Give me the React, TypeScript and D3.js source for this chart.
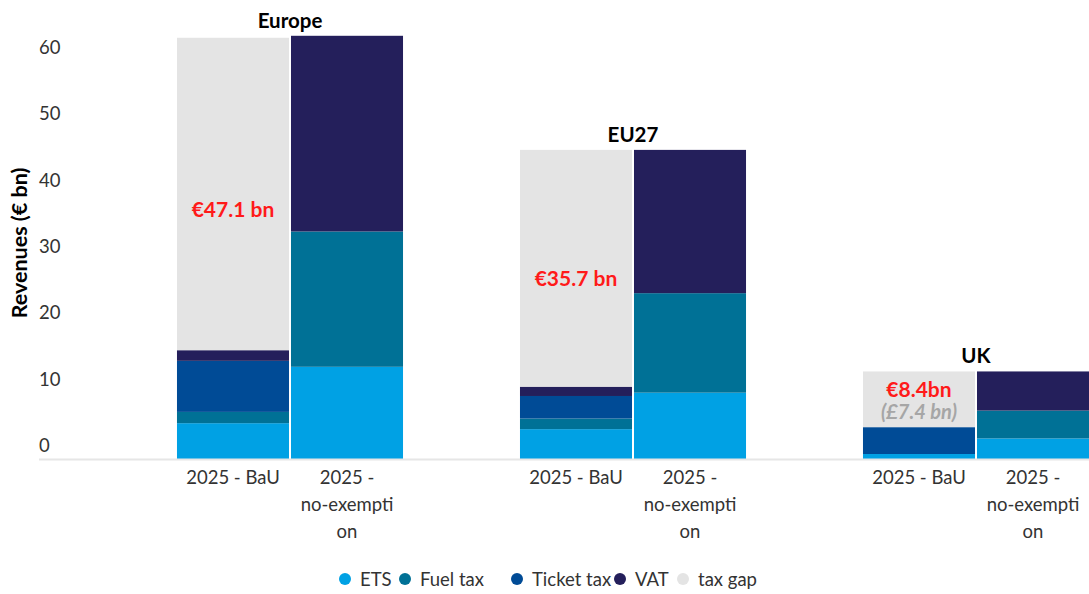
import React from "react";
import * as d3 from "d3";

const groups = ["Europe", "EU27", "UK"];
const scenarios = ["2025 - BaU", "2025 - no-exemption"];
const seriesNames = ["ETS", "Fuel tax", "Ticket tax", "VAT", "tax gap"];
const seriesColors = ["#00a1e4", "#007196", "#004b96", "#241f5b", "#e4e4e4"];

// values per group for [BaU, no-exemption]
const ets = [[5.4, 13.9], [4.5, 10.0], [0.75, 3.1]];
const fuelTax = [[1.7, 20.4], [1.6, 15.0], [0, 4.2]];
const ticketTax = [[7.7, 0], [3.4, 0], [4.05, 0]];
const vat = [[1.6, 29.5], [1.4, 21.6], [0, 5.9]];
const taxGap = [[47.1, 0], [35.7, 0], [8.4, 0]];

const yTicks = [0, 10, 20, 30, 40, 50, 60];
const gapLabels = ["€47.1 bn", "€35.7 bn", "€8.4bn"];
const gapSubLabels = ["", "", "(£7.4 bn)"];
const gapLabelAnchors = [37.5, 27.1, 8.9];

const W = 1089;
const H = 594;
const FONT = "Lato, 'Noto Sans', sans-serif";

export default function App() {
  const y = d3.scaleLinear().domain([0, 60]).range([459, 61]);
  const x0 = d3
    .scaleBand<string>()
    .domain(groups)
    .range([118.5, 1147.5])
    .paddingInner(0.341)
    .paddingOuter(0.1705);
  const x1 = d3
    .scaleBand<string>()
    .domain(scenarios)
    .range([0, x0.bandwidth()])
    .paddingInner(0.0175);

  const allSeries = [ets, fuelTax, ticketTax, vat, taxGap];

  const rows = groups.flatMap((g, gi) =>
    scenarios.map((s, si) => {
      const row: any = { group: g, scenario: s, gi, si };
      seriesNames.forEach((n, k) => (row[n] = allSeries[k][gi][si]));
      return row;
    })
  );
  const stack = d3.stack<any>().keys(seriesNames);
  const stacked = stack(rows);

  const groupMax = groups.map((g, gi) => d3.max(rows.filter((r) => r.gi === gi).map((r) => d3.sum(seriesNames, (n) => r[n])))!);

  const xLabelLines = (s: string) => (s === "2025 - BaU" ? ["2025 - BaU"] : ["2025 -", "no-exempti", "on"]);

  const legendX = [339, 399, 511, 614, 677];

  return (
    <svg width={W} height={H} style={{ position: "absolute", left: 0, top: 0, fontFamily: FONT }}>
      <rect x={0} y={0} width={W} height={H} fill="#fff" />
      {/* y tick labels */}
      {yTicks.map((t) => (
        <text key={t} x={39} y={y(t) - 7} fontSize={18.5} fill="#333" textAnchor="start">
          {t}
        </text>
      ))}
      <text
        transform={`translate(27,243) rotate(-90)`}
        fontSize={21.5}
        fontWeight={700}
        fill="#000"
        textAnchor="middle"
      >
        Revenues (€ bn)
      </text>
      {/* bars */}
      {stacked.map((layer, k) => (
        <g key={seriesNames[k]} fill={seriesColors[k]}>
          {layer.map((d, i) => {
            const r = rows[i];
            const h = y(d[0]) - y(d[1]);
            if (h <= 0) return null;
            return (
              <rect
                key={i}
                x={x0(r.group)! + x1(r.scenario)!}
                y={y(d[1])}
                width={x1.bandwidth()}
                height={h}
              />
            );
          })}
        </g>
      ))}
      {/* baseline */}
      <line x1={39} x2={W} y1={y(0) + 0.5} y2={y(0) + 0.5} stroke="#e6e6e6" strokeWidth={2} />
      {/* group titles */}
      {groups.map((g, gi) => (
        <text
          key={g}
          x={x0(g)! + x0.bandwidth() / 2}
          y={y(groupMax[gi]) - 8}
          fontSize={20.5}
          fontWeight={700}
          fill="#000"
          textAnchor="middle"
        >
          {g}
        </text>
      ))}
      {/* gap labels */}
      {groups.map((g, gi) => {
        const cx = x0(g)! + x1(scenarios[0])! + x1.bandwidth() / 2;
        const cy = y(gapLabelAnchors[gi]);
        const sub = gapSubLabels[gi];
        return (
          <g key={g}>
            <text
              x={cx}
              y={sub ? cy - 3 : cy + 7}
              fontSize={21}
              fontWeight={700}
              fill="#ff1a1a"
              textAnchor="middle"
            >
              {gapLabels[gi]}
            </text>
            {sub && (
              <text x={cx} y={cy + 19} fontSize={20} fontWeight={700} fontStyle="italic" fill="#a6a6a6" textAnchor="middle">
                {sub}
              </text>
            )}
          </g>
        );
      })}
      {/* x labels */}
      {rows.map((r, i) => (
        <text key={i} fontSize={18.5} fill="#333" textAnchor="middle">
          {xLabelLines(r.scenario).map((line, li) => (
            <tspan key={li} x={x0(r.group)! + x1(r.scenario)! + x1.bandwidth() / 2} y={484 + li * 27}>
              {line}
            </tspan>
          ))}
        </text>
      ))}
      {/* legend */}
      {seriesNames.map((n, k) => (
        <g key={n} transform={`translate(${legendX[k]},579)`}>
          <circle cx={6} cy={0} r={6} fill={seriesColors[k]} />
          <text x={21} y={6.5} fontSize={18.5} fill="#333">
            {n}
          </text>
        </g>
      ))}
    </svg>
  );
}
